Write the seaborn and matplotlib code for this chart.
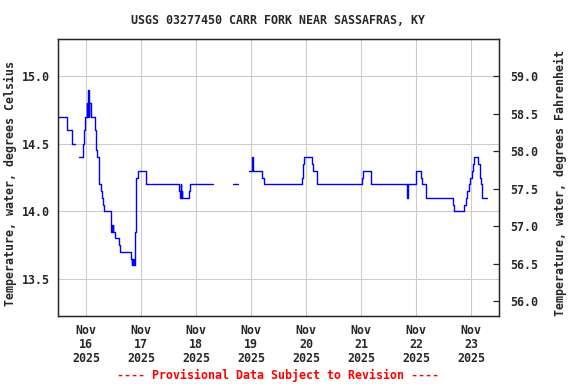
import numpy as np
import pandas as pd
import matplotlib
matplotlib.use("Agg")
import matplotlib.pyplot as plt
import seaborn as sns

# step change points, hours from 2025-11-16 00:00 (NaN = gap in record)
hours = [-12.25, -8.25, -6.25, -4.75,
         -3.0, -1.25, -0.75, -0.25, 0.25, 0.5, 0.75, 1.0, 1.25, 1.5, 2.25, 3.75,
         4.25, 4.5, 5.0, 5.5, 5.75, 6.5, 7.0, 7.25, 7.75, 10.75, 11.0, 11.25,
         11.5, 11.75, 12.0, 12.5, 14.5, 15.0, 19.75, 20.0, 20.25, 20.5, 20.75,
         21.0, 21.25, 21.75, 22.0, 22.5, 26.25, 28.5,
         29.0, 40.75, 41.0, 41.25, 41.5, 41.75, 42.0, 45.0, 45.5, 55.25,
         64.0, 66.25,
         71.0, 72.5, 72.75, 77.0, 77.75, 94.25, 94.75, 95.25, 98.75, 99.25,
         100.75, 120.5, 120.75, 124.25, 124.5, 140.25, 140.5, 144.0, 146.0,
         146.5, 148.5, 160.25, 160.5, 165.0, 165.75, 166.25, 167.0, 167.75,
         168.25, 169.0, 169.5, 171.25, 171.75, 172.0, 172.5, 173.0, 175.0]
temps = [14.7, 14.6, 14.5, np.nan,
         14.4, 14.5, 14.6, 14.7, 14.8, 14.7, 14.8, 14.9, 14.7, 14.8, 14.7, 14.6,
         14.5, 14.45, 14.4, 14.3, 14.2, 14.15, 14.1, 14.05, 14.0, 13.9, 13.85, 13.9,
         13.85, 13.9, 13.85, 13.8, 13.75, 13.7, 13.65, 13.6, 13.65, 13.6, 13.65,
         13.6, 13.85, 14.2, 14.25, 14.3, 14.2, np.nan,
         14.2, 14.15, 14.1, 14.2, 14.1, 14.15, 14.1, 14.15, 14.2, np.nan,
         14.2, np.nan,
         14.3, 14.4, 14.3, 14.25, 14.2, 14.25, 14.35, 14.4, 14.35, 14.3,
         14.2, 14.25, 14.3, 14.25, 14.2, 14.1, 14.2, 14.3, 14.25,
         14.2, 14.1, 14.05, 14.0, 14.05, 14.1, 14.15, 14.2, 14.25,
         14.3, 14.35, 14.4, 14.35, 14.3, 14.25, 14.2, 14.1, np.nan]

days = pd.date_range("2025-11-16", "2025-11-23", freq="D")
day_labels = [f"Nov\n{d.day}\n2025" for d in days]
c_ticks = [13.5, 14.0, 14.5, 15.0]
f_ticks = [56.0, 56.5, 57.0, 57.5, 58.0, 58.5, 59.0]

base = pd.Timestamp("2025-11-16")
df = pd.DataFrame({"hours": hours, "temp": temps})
df["time"] = base + pd.to_timedelta(df["hours"], unit="h")
# a NaN row closes the segment before it, so the last step keeps its width
df["seg"] = df["temp"].isna().shift(fill_value=False).cumsum()
df["temp"] = df["temp"].ffill()

sns.set_style("white")
plt.rcParams["font.family"] = ["DejaVu Sans Mono"]
plt.rcParams["font.weight"] = "bold"
plt.rcParams["font.size"] = 8.4

fig = plt.figure(figsize=(5.76, 3.84), dpi=100)
ax = fig.add_axes([58 / 576, 1 - 316 / 384, 441 / 576, 277 / 384])

sns.lineplot(data=df, x="time", y="temp", units="seg", estimator=None,
             drawstyle="steps-post", color="#0000ff", lw=1.0, ax=ax)

ylim = (13.225, 15.275)
ax.set_ylim(ylim)
ax.set_xlim(base + pd.Timedelta(hours=-12.2), base + pd.Timedelta(hours=180.2))
ax.set_xticks(days)
ax.set_xticklabels(day_labels, linespacing=1.1)
ax.set_yticks(c_ticks)
ax.set_yticklabels([f"{v:.1f}" for v in c_ticks])
ax.grid(True, color="#cccccc", lw=0.8)
ax.tick_params(axis="both", length=0, pad=6)
ax.set_xlabel("")
ax.set_ylabel("Temperature, water, degrees Celsius", fontweight="bold")
ax.yaxis.set_label_coords(-0.092, 0.48)
for s in ax.spines.values():
    s.set_color("black")
    s.set_linewidth(0.9)

ax2 = ax.twinx()
ax2.set_ylim(ylim[0] * 1.8 + 32, ylim[1] * 1.8 + 32)
ax2.set_yticks(f_ticks)
ax2.set_yticklabels([f"{v:.1f}" for v in f_ticks])
ax2.tick_params(axis="y", direction="in", length=4, width=0.9, pad=8)
ax2.grid(False)
ax2.set_ylabel("Temperature, water, degrees Fahrenheit", fontweight="bold")
ax2.yaxis.set_label_coords(1.124, 0.48)
for s in ax2.spines.values():
    s.set_linewidth(0.9)

fig.text(278 / 576, 1 - 20 / 384, "USGS 03277450 CARR FORK NEAR SASSAFRAS, KY",
         ha="center", va="center", fontweight="bold")
fig.text(278 / 576, 1 - 375 / 384, "---- Provisional Data Subject to Revision ----",
         ha="center", va="center", color="red", fontweight="bold")

fig.savefig("out.png", dpi=100)
